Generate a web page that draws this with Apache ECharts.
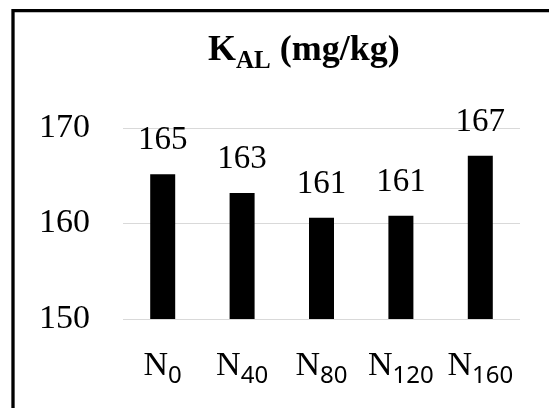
<!DOCTYPE html>
<html>
<head>
<meta charset="utf-8">
<script src="https://cdn.jsdelivr.net/npm/echarts@6/dist/echarts.min.js"></script>
<style>
html,body{margin:0;padding:0;background:#fff;}
#c{width:549px;height:408px;}
</style>
</head>
<body>
<div id="c"></div>
<script>
var categories = ['0', '40', '80', '120', '160'];
var values = [165.15, 163.2, 160.6, 160.8, 167.1];
var yTicks = [150, 160, 170];

var chart = echarts.init(document.getElementById('c'), null, {renderer: 'canvas'});
var serif = '"Liberation Serif", "Times New Roman", serif';
var option = {
  animation: false,
  backgroundColor: '#fff',
  title: {
    text: '{k|K}{s|AL}{p| (mg/kg)}',
    left: 208,
    top: 33,
    padding: 0,
    textStyle: {
      rich: {
        k: {fontFamily: serif, fontWeight: 'bold', fontSize: 36, color: '#000', verticalAlign: 'top', lineHeight: 36},
        s: {fontFamily: serif, fontWeight: 'bold', fontSize: 25, color: '#000', verticalAlign: 'top', lineHeight: 25, padding: [16, 0, 0, 0]},
        p: {fontFamily: serif, fontWeight: 'bold', fontSize: 36, color: '#000', verticalAlign: 'top', lineHeight: 36}
      }
    }
  },
  graphic: [{
    type: 'rect',
    shape: {x: 13, y: 10.7, width: 700, height: 600},
    style: {fill: null, stroke: '#000', lineWidth: 3.3},
    silent: true
  }],
  grid: {left: 123, right: 29, top: 128, bottom: 89, containLabel: false},
  xAxis: {
    type: 'category',
    data: categories,
    axisLine: {show: false},
    axisTick: {show: false},
    axisLabel: {
      interval: 0,
      hideOverlap: false,
      margin: 30,
      formatter: function (v) { return '{n|N}{s|' + v + '}'; },
      rich: {
        n: {fontFamily: serif, fontSize: 34, color: '#000', verticalAlign: 'top', lineHeight: 34},
        s: {fontFamily: '"Noto Sans", sans-serif', fontSize: 24, color: '#000', verticalAlign: 'top', lineHeight: 24, padding: [15, 0, 0, 0]}
      }
    }
  },
  yAxis: {
    type: 'value',
    min: 150,
    max: 170,
    interval: 10,
    axisLine: {show: false},
    axisTick: {show: false},
    splitLine: {lineStyle: {color: '#d9d9d9', width: 1}},
    axisLabel: {
      margin: 33,
      fontFamily: serif,
      fontSize: 34,
      color: '#000',
      formatter: function (v) { return yTicks.indexOf(v) >= 0 ? String(v) : ''; }
    }
  },
  series: [{
    type: 'bar',
    data: values,
    barWidth: 25,
    itemStyle: {color: '#000'},
    label: {
      show: true,
      position: 'top',
      distance: 17,
      fontFamily: serif,
      fontSize: 33,
      color: '#000',
      formatter: function (p) { return Math.round(p.value).toString(); }
    }
  }]
};
chart.setOption(option);
</script>
</body>
</html>
